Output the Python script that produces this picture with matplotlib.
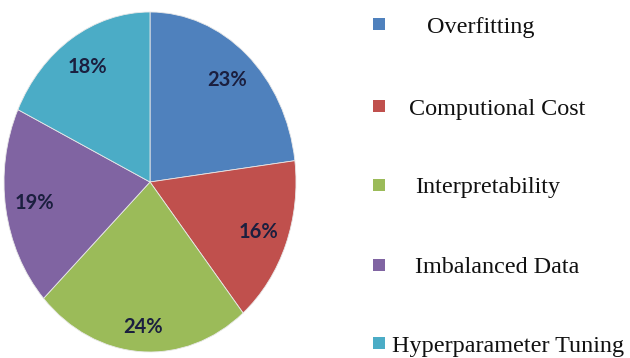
import matplotlib.pyplot as plt
from matplotlib.patches import Rectangle

# Share of each challenge (percent)
labels = ['Overfitting', 'Computional Cost', 'Interpretability',
          'Imbalanced Data', 'Hyperparameter Tuning']
shares = [23, 16, 24, 19, 18]
colors = ['#4F81BD', '#C0504D', '#9BBB59', '#8064A2', '#4BACC6']

W, H = 630, 358
fig = plt.figure(figsize=(W / 100, H / 100), dpi=100)
fig.patch.set_facecolor('white')

# pie axes: slightly taller than wide, so the pie comes out as an ellipse
ax = fig.add_axes([4 / W, 6 / H, 292 / W, 340 / H])
wedges, texts, autotexts = ax.pie(
    shares, colors=colors, startangle=90, counterclock=False,
    autopct='%1.0f%%', pctdistance=0.8,
    wedgeprops=dict(edgecolor='#e8e8e8', linewidth=0.6),
    textprops=dict(fontsize=14.5, fontweight='bold', family='Lato',
                   color='#1b1f3f'))
# bottom label sits a little closer to the rim
x, y = autotexts[2].get_position()
autotexts[2].set_position((x, y * 1.07))
ax.set_aspect('auto')
ax.set_xlim(-1, 1)
ax.set_ylim(-1, 1)
ax.axis('off')

# legend drawn by hand: square marker + serif label per row
square_y = [24, 106, 185, 265, 343]
text_x = [427, 409, 415, 415, 392]
base_y = [33, 115, 193, 273, 352]
for lab, col, sy, tx, by in zip(labels, colors, square_y, text_x, base_y):
    fig.patches.append(Rectangle((373 / W, 1 - (sy + 6) / H), 12 / W, 12 / H,
                                 transform=fig.transFigure, facecolor=col,
                                 edgecolor='none'))
    fig.text(tx / W, 1 - by / H, lab, family='Liberation Serif',
             fontsize=17.4, color='#111111', ha='left', va='baseline')

fig.savefig('out.png', dpi=100, facecolor='white')
plt.close(fig)
